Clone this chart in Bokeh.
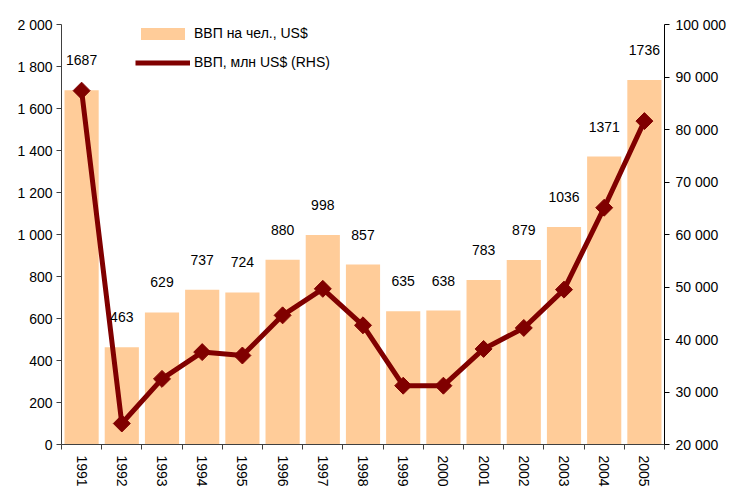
from math import pi
from bokeh.plotting import figure
from bokeh.models import (Range1d, LinearAxis, FixedTicker, Legend, LegendItem, ColumnDataSource)
from bokeh.core.properties import value
from bokeh.embed import file_html
from bokeh.resources import INLINE

years = [1991, 1992, 1993, 1994, 1995, 1996, 1997, 1998, 1999, 2000, 2001, 2002, 2003, 2004, 2005]
gdp_per_capita = [1687, 463, 629, 737, 724, 880, 998, 857, 635, 638, 783, 879, 1036, 1371, 1736]
gdp_mln = [87400, 24000, 32500, 37600, 36950, 44600, 49650, 42700, 31200, 31200, 38200, 42200, 49500, 65100, 81600]

left_ticks = [0, 200, 400, 600, 800, 1000, 1200, 1400, 1600, 1800, 2000]
left_labels = ["0", "200", "400", "600", "800", "1 000", "1 200", "1 400", "1 600", "1 800", "2 000"]
right_ticks = [20000, 30000, 40000, 50000, 60000, 70000, 80000, 90000, 100000]
right_labels = ["20 000", "30 000", "40 000", "50 000", "60 000", "70 000", "80 000", "90 000", "100 000"]

bar_name = "ВВП на чел., US$"
line_name = "ВВП, млн US$ (RHS)"

FONT = "Liberation Sans"
BAR_COLOR = "#FFCC99"
LINE_COLOR = "#800000"

src = ColumnDataSource(dict(
    x=years, pc=gdp_per_capita, gdp=gdp_mln, lbl=[str(v) for v in gdp_per_capita]))

p = figure(width=730, height=489, output_backend="svg", toolbar_location=None,
           x_range=Range1d(years[0] - 0.5, years[-1] + 0.5),
           y_range=Range1d(0, 2000),
           min_border_left=61, min_border_right=66, min_border_top=24, min_border_bottom=45)
p.extra_y_ranges = {"rhs": Range1d(20000, 100000)}
p.outline_line_color = None
p.xgrid.visible = False
p.ygrid.visible = False
p.background_fill_color = "white"
p.border_fill_color = "white"

bars = p.vbar(x="x", top="pc", width=0.85, source=src, fill_color=BAR_COLOR, line_color=None)
line = p.line(x="x", y="gdp", source=src, y_range_name="rhs", line_color=LINE_COLOR, line_width=5)
pts = p.scatter(x="x", y="gdp", source=src, y_range_name="rhs", marker="square", angle=pi / 4,
                size=12, fill_color=LINE_COLOR, line_color=LINE_COLOR)
legend_marker = p.scatter(x=[], y=[], y_range_name="rhs", marker="diamond", size=20,
                          fill_color=LINE_COLOR, line_color=LINE_COLOR)

p.text(x="x", y="pc", text="lbl", source=src, y_offset=-30, text_align="center",
       text_baseline="middle", text_font=value(FONT), text_font_size="14px", text_color="black")

# x axis
xa = p.xaxis[0]
xa.ticker = FixedTicker(ticks=years, minor_ticks=[y - 0.5 for y in years] + [years[-1] + 0.5])
xa.major_label_overrides = {y: str(y) for y in years}
xa.major_label_orientation = "vertical"
xa.major_tick_out = 0
xa.major_tick_in = 0
xa.minor_tick_out = 5
xa.minor_tick_in = 0
xa.minor_tick_line_color = "#404040"
xa.axis_line_color = "#404040"
xa.major_label_standoff = 6
xa.major_label_text_font = FONT
xa.major_label_text_font_size = "14px"
xa.major_label_text_color = "black"

# left axis
ya = p.yaxis[0]
ya.ticker = FixedTicker(ticks=left_ticks, minor_ticks=[])
ya.major_label_overrides = {t: l for t, l in zip(left_ticks, left_labels)}
ya.major_tick_out = 5
ya.major_tick_in = 0
ya.minor_tick_out = 0
ya.minor_tick_in = 0
ya.axis_line_color = "#404040"
ya.major_tick_line_color = "#404040"
ya.major_label_standoff = 4
ya.major_label_text_font = FONT
ya.major_label_text_font_size = "14px"
ya.major_label_text_color = "black"

# right axis
ra = LinearAxis(y_range_name="rhs", ticker=FixedTicker(ticks=right_ticks, minor_ticks=[]))
ra.major_label_overrides = {t: l for t, l in zip(right_ticks, right_labels)}
ra.major_tick_out = 5
ra.major_tick_in = 0
ra.minor_tick_out = 0
ra.minor_tick_in = 0
ra.axis_line_color = "black"
ra.major_tick_line_color = "black"
ra.major_label_standoff = 6
ra.major_label_text_font = FONT
ra.major_label_text_font_size = "14px"
ra.major_label_text_color = "black"
p.add_layout(ra, "right")

legend = Legend(items=[LegendItem(label=bar_name, renderers=[bars]),
                       LegendItem(label=line_name, renderers=[line, legend_marker])],
                location=(74, 374), glyph_width=55, glyph_height=15, label_height=15,
                label_standoff=4, spacing=13, padding=0, margin=0,
                border_line_color=None, background_fill_alpha=0,
                label_text_font=FONT, label_text_font_size="14px", label_text_color="black")
p.add_layout(legend, "center")

open("out.html", "w").write(file_html(p, INLINE))
